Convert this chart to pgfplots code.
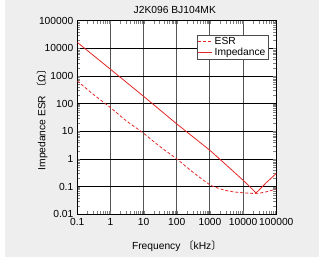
\documentclass[border=0pt]{standalone}
\usepackage{pgfplots}
\pgfplotsset{compat=1.18}
\usepackage{fontspec}
\setmainfont{Liberation Sans}
\newfontfamily\cjk{Noto Sans CJK JP}
\definecolor{bg}{RGB}{237,238,237}
\definecolor{zred}{RGB}{228,38,38}
\definecolor{vgrid}{RGB}{85,85,85}
\newcommand{\fs}{\fontsize{10.3}{11}\selectfont}
\begin{document}
\begin{tikzpicture}[x=1bp,y=1bp]
\path[use as bounding box] (-77.3,-48.7) rectangle (241.7,214.3);
\fill[bg] (-72.3,-42.7) rectangle (241.7,214.3);
\begin{axis}[at={(0,0)}, anchor=south west, scale only axis,
  width=199bp, height=193.6bp,
  xmode=log, ymode=log,
  xmin=0.1, xmax=100000, ymin=0.01, ymax=100000,
  axis background/.style={fill=white},
  axis line style={black, line width=0.9pt},
  xtick={0.1,1,10,100,1000,10000,100000},
  xticklabels={0.1,1,10,100,1000,10000,100000},
  ytick={0.01,0.1,1,10,100,1000,10000,100000},
  yticklabels={0.01,0.1,1,10,100,1000,10000,100000},
  minor tick num=0,
  major tick length=0pt,
  /pgf/number format/assume math mode=true,
  tick label style={font=\fs},
  xticklabel style={yshift=-0.5pt},
  yticklabel style={xshift=-0.5pt},
  xmajorgrids, ymajorgrids,
  x grid style={vgrid, line width=1pt},
  y grid style={black, line width=0.9pt},
  legend style={at={(axis description cs:0.6,0.926)}, anchor=north west,
    draw=gray!60!black, fill=white, inner xsep=1pt, inner ysep=0.3pt, row sep=-2.5pt,
    font=\fs, cells={anchor=west}},
  legend image code/.code={\draw[#1] (0bp,0bp) -- (14bp,0bp);},
  clip=true,
]
\addplot[zred, line width=0.8pt, dash pattern=on 3bp off 2bp, smooth, tension=0.4] coordinates {
(0.1,660) (0.3,220) (1,72) (3,24) (10,8.5) (30,2.9) (100,1.0) (300,0.34) (1000,0.116)
(2000,0.084) (3000,0.073) (5000,0.065) (10000,0.06) (20000,0.057) (30000,0.058)
(50000,0.065) (100000,0.082)};
\addlegendentry{ESR}
\addplot[zred, line width=0.8pt] coordinates {
(0.1,16500) (1,1750) (10,184) (100,18.5) (1000,2.05) (3000,0.63)
(10000,0.17) (15000,0.107) (20000,0.076) (24000,0.06) (27000,0.066) (30000,0.075)
(50000,0.14) (100000,0.3)};
\addlegendentry{Impedance}
\end{axis}
\node[font=\fs] at (97.5,204.3) {J2K096 BJ104MK};
\node[font=\fs] at (99.5,-31.7) {Frequency {\cjk 〔}kHz{\cjk 〕}};
\node[font=\fs, rotate=90] at (-35.3,96.8) {Impedance ESR {\cjk 〔}Ω{\cjk 〕}};
\end{tikzpicture}
\end{document}
